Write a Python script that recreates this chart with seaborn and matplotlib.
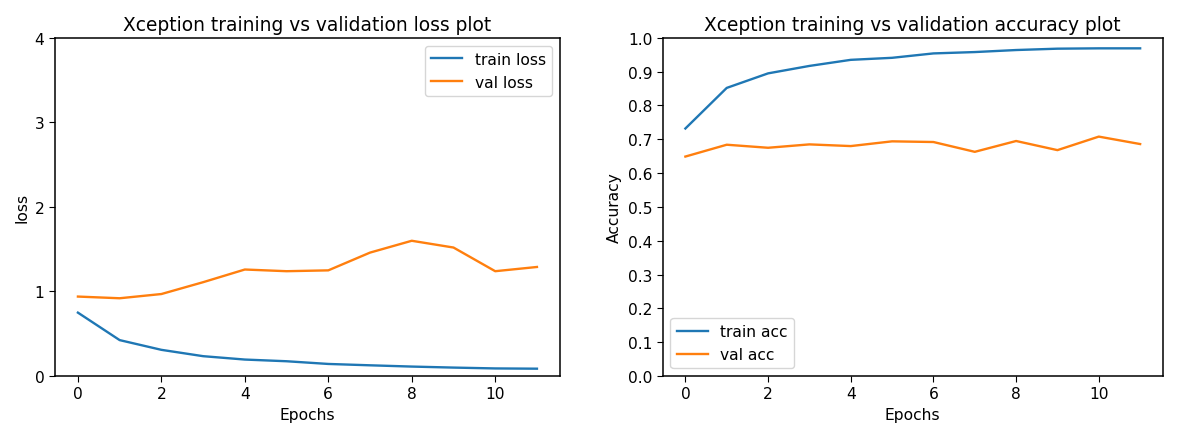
import matplotlib
matplotlib.use("Agg")
import matplotlib.pyplot as plt
import seaborn as sns
import numpy as np

epochs = list(range(12))
train_loss = [0.75, 0.425, 0.31, 0.235, 0.195, 0.175, 0.143, 0.127, 0.112, 0.10, 0.09, 0.087]
val_loss = [0.94, 0.92, 0.97, 1.11, 1.26, 1.24, 1.25, 1.46, 1.60, 1.52, 1.24, 1.29]
train_acc = [0.732, 0.852, 0.895, 0.917, 0.935, 0.941, 0.954, 0.958, 0.964, 0.968, 0.969, 0.969]
val_acc = [0.649, 0.684, 0.675, 0.685, 0.680, 0.694, 0.692, 0.663, 0.695, 0.668, 0.708, 0.686]

plt.rcParams["font.size"] = 11.2
plt.rcParams["axes.linewidth"] = 1.1
plt.rcParams["xtick.major.size"] = 4
plt.rcParams["ytick.major.size"] = 4

fig = plt.figure(figsize=(11.77, 4.27), dpi=100)
ax1 = fig.add_axes([0.0467, 0.117, 0.429, 0.792])
ax2 = fig.add_axes([0.563, 0.117, 0.425, 0.792])

lw = 1.7
sns.lineplot(x=epochs, y=train_loss, ax=ax1, label="train loss", color="#1f77b4", linewidth=lw)
sns.lineplot(x=epochs, y=val_loss, ax=ax1, label="val loss", color="#ff7f0e", linewidth=lw)
ax1.set_ylim(0, 4)
ax1.set_yticks([0, 1, 2, 3, 4])
ax1.set_xticks([0, 2, 4, 6, 8, 10])
ax1.set_title("Xception training vs validation loss plot")
ax1.set_xlabel("Epochs")
ax1.set_ylabel("loss")
ax1.legend(loc="upper right")

sns.lineplot(x=epochs, y=train_acc, ax=ax2, label="train acc", color="#1f77b4", linewidth=lw)
sns.lineplot(x=epochs, y=val_acc, ax=ax2, label="val acc", color="#ff7f0e", linewidth=lw)
ax2.set_ylim(0, 1)
ax2.set_yticks(np.round(np.arange(0, 1.01, 0.1), 1))
ax2.set_xticks([0, 2, 4, 6, 8, 10])
ax2.set_title("Xception training vs validation accuracy plot")
ax2.set_xlabel("Epochs")
ax2.set_ylabel("Accuracy")
ax2.legend(loc="lower left")

fig.savefig("out.png", dpi=100)
